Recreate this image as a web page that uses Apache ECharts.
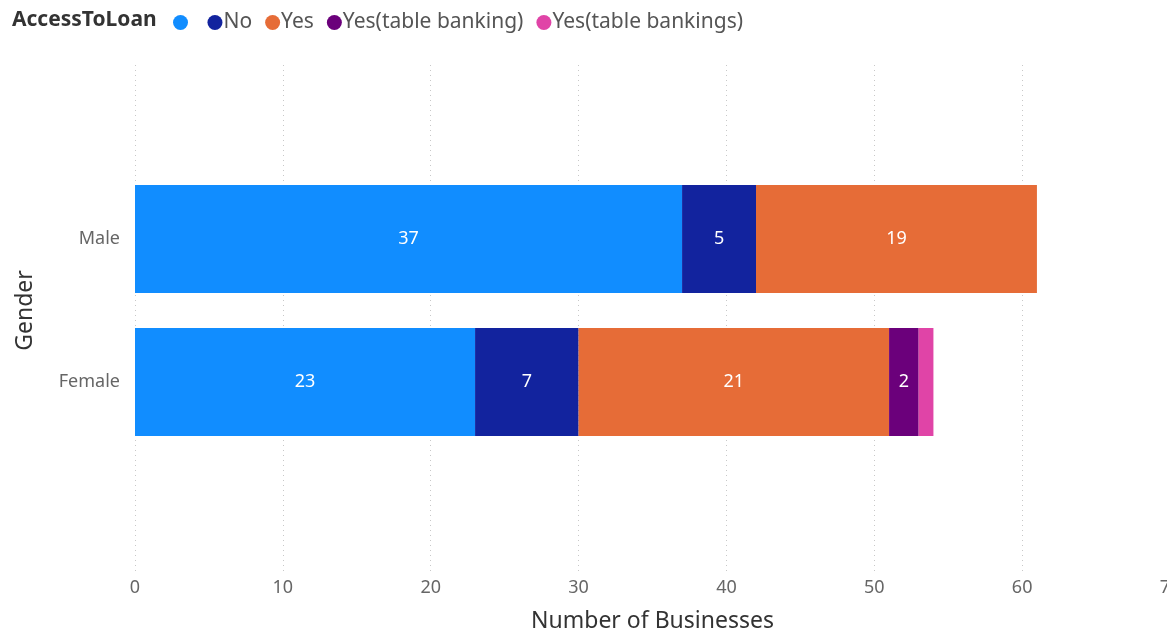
<!DOCTYPE html>
<html>
<head>
<meta charset="utf-8">
<script src="https://cdn.jsdelivr.net/npm/echarts@6/dist/echarts.min.js"></script>
<style>
  html, body { margin: 0; padding: 0; background: #fff; }
  #chart { width: 1167px; height: 635px; }
</style>
</head>
<body>
<div id="chart"></div>
<script>
// Businesses by gender, split by access to loans
const genders = ['Female', 'Male'];
const loanGroups = [' ', 'No', 'Yes', 'Yes(table banking)', 'Yes(table bankings)'];
const blankValues = [23, 37];
const noValues = [7, 5];
const yesValues = [21, 19];
const tableBankingValues = [2, 0];
const tableBankingsValues = [1, 0];
const xTicks = [0, 10, 20, 30, 40, 50, 60, 70];

const palette = ['#118DFF', '#12239E', '#E66C37', '#6B007B', '#E044A7'];
const seriesValues = [blankValues, noValues, yesValues, tableBankingValues, tableBankingsValues];
const FONT = '"Noto Sans", "Open Sans", sans-serif';

const chart = echarts.init(document.getElementById('chart'));

const barSeries = loanGroups.map((name, i) => ({
  name: name,
  type: 'bar',
  stack: 'total',
  xAxisIndex: 1,
  yAxisIndex: 1,
  barWidth: 108,
  itemStyle: { color: palette[i] },
  emphasis: { disabled: true },
  label: {
    show: true,
    position: 'inside',
    color: '#fff',
    fontFamily: FONT,
    fontSize: 18,
    formatter: p => (p.value >= 2 ? String(p.value) : '')
  },
  data: seriesValues[i].map(v => (v === 0 ? null : v))
}));

chart.setOption({
  animation: false,
  textStyle: { fontFamily: FONT },
  title: {
    text: 'AccessToLoan',
    left: 7,
    top: 5,
    textStyle: { fontFamily: FONT, fontSize: 21, fontWeight: 'bold', color: '#333' }
  },
  legend: {
    data: loanGroups,
    left: 168,
    top: 7,
    icon: 'circle',
    itemWidth: 15,
    itemHeight: 15,
    itemGap: 13,
    textStyle: { fontFamily: FONT, fontSize: 21, color: '#555', padding: [0, 0, 0, -4] }
  },
  grid: [
    { left: 135, right: -3, top: 65, bottom: 63, outerBoundsMode: 'none' },
    { left: 135, right: -3, top: 167.5, bottom: 181.5, outerBoundsMode: 'none' }
  ],
  xAxis: [
    {
      type: 'value',
      gridIndex: 0,
      min: xTicks[0],
      max: xTicks[xTicks.length - 1],
      interval: 10,
      axisLine: { show: false },
      axisTick: { show: false },
      axisLabel: { color: '#666', fontSize: 18, margin: 7, fontFamily: FONT, hideOverlap: false },
      splitLine: { show: true, lineStyle: { color: '#c8c8c8', type: [1, 4], width: 1 } },
      name: 'Number of Businesses',
      nameLocation: 'middle',
      nameGap: 38,
      nameTextStyle: { color: '#333', fontSize: 23, fontFamily: FONT }
    },
    {
      type: 'value',
      gridIndex: 1,
      min: xTicks[0],
      max: xTicks[xTicks.length - 1],
      show: false,
      splitLine: { show: false }
    }
  ],
  yAxis: [
    {
      type: 'value',
      gridIndex: 0,
      show: false,
      splitLine: { show: false }
    },
    {
      type: 'category',
      gridIndex: 1,
      data: genders,
      axisLine: { show: false },
      axisTick: { show: false },
      axisLabel: { color: '#666', fontSize: 18, margin: 15, fontFamily: FONT },
      name: 'Gender',
      nameLocation: 'middle',
      nameRotate: 90,
      nameGap: 98,
      nameTextStyle: { color: '#333', fontSize: 23, fontFamily: FONT }
    }
  ],
  series: barSeries
});
</script>
</body>
</html>
